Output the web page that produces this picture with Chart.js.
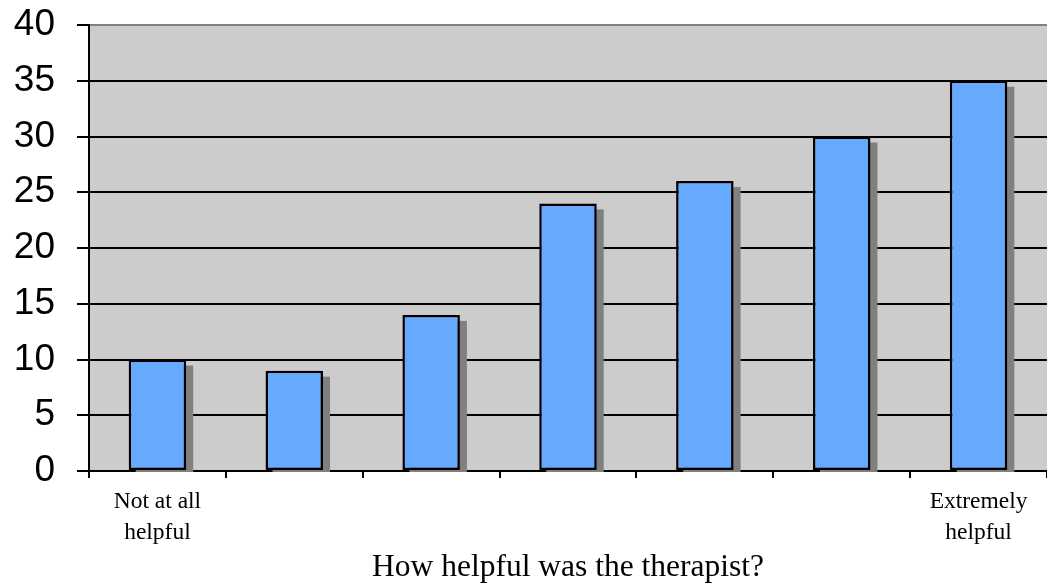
<!DOCTYPE html>
<html>
<head>
<meta charset="utf-8">
<script src="https://cdn.jsdelivr.net/npm/chart.js@4/dist/chart.umd.min.js"></script>
<style>
  html, body { margin: 0; padding: 0; background: #ffffff; }
  #wrap { width: 1047px; height: 584px; }
</style>
</head>
<body>
<div id="wrap"><canvas id="c" width="1047" height="584"></canvas></div>
<script>
const categories = [["Not at all", "helpful"], "", "", "", "", "", ["Extremely", "helpful"]];
const values = [10, 9, 14, 24, 26, 30, 35];
const yTicks = [0, 5, 10, 15, 20, 25, 30, 35, 40];
const xTitle = "How helpful was the therapist?";

const bgPlugin = {
  id: 'bg',
  beforeDraw(chart) {
    const { ctx, chartArea: a } = chart;
    ctx.save();
    ctx.fillStyle = '#ffffff';
    ctx.fillRect(0, 0, chart.width, chart.height);
    ctx.fillStyle = '#cccccc';
    ctx.fillRect(a.left, a.top, a.right - a.left, a.bottom - a.top);
    ctx.restore();
  }
};
const shadowPlugin = {
  id: 'shadow',
  beforeDatasetsDraw(chart) {
    const ctx = chart.ctx;
    const meta = chart.getDatasetMeta(0);
    ctx.save();
    ctx.fillStyle = '#808080';
    meta.data.forEach((bar) => {
      const p = bar.getProps(['x', 'y', 'base', 'width'], true);
      const left = p.x - p.width / 2 + 7;
      const top = Math.min(p.y, p.base) + 6;
      const bottom = Math.max(p.y, p.base) + 2;
      ctx.fillRect(left, top, p.width, bottom - top);
    });
    ctx.restore();
  }
};

new Chart(document.getElementById('c'), {
  type: 'bar',
  data: {
    labels: categories,
    datasets: [{
      data: values,
      backgroundColor: '#66aaff',
      borderColor: '#000000',
      borderWidth: 2.5,
      borderSkipped: false,
      barPercentage: 0.42,
      categoryPercentage: 1.0
    }]
  },
  options: {
    responsive: false,
    animation: false,
    devicePixelRatio: 1,
    layout: { padding: { top: 0, left: 0, right: 0, bottom: 0 } },
    plugins: { legend: { display: false }, tooltip: { enabled: false }, title: { display: false } },
    scales: {
      x: {
        type: 'category',
        offset: true,
        afterFit(s) { s.height = 113; },
        grid: {
          offset: true,
          drawOnChartArea: false,
          drawTicks: true,
          tickLength: 7,
          tickColor: '#000000',
          tickWidth: 2,
          color: '#000000',
          lineWidth: 2
        },
        border: { display: true, color: '#000000', width: 2 },
        ticks: {
          autoSkip: false,
          maxRotation: 0,
          minRotation: 0,
          padding: 9,
          color: '#000000',
          font: { family: '"Liberation Serif", "Times New Roman", serif', size: 23.5, lineHeight: 1.3 }
        },
        title: {
          display: true,
          text: xTitle,
          color: '#000000',
          padding: { top: 0, bottom: -3 },
          font: { family: '"Liberation Serif", "Times New Roman", serif', size: 31.5, lineHeight: 1.2 }
        }
      },
      y: {
        min: yTicks[0],
        max: yTicks[yTicks.length - 1],
        afterFit(s) { s.width = 89; s.paddingTop = 25; s.paddingBottom = 0; },
        afterBuildTicks(s) { s.ticks = yTicks.map(v => ({ value: v })); },
        grid: {
          drawTicks: true,
          tickLength: 12,
          tickColor: '#000000',
          tickWidth: 2,
          color: (c) => (c.tick && c.tick.value === 40 ? '#808080' : '#000000'),
          lineWidth: 2
        },
        border: { display: true, color: '#000000', width: 2 },
        ticks: {
          stepSize: 5,
          padding: 22,
          color: '#000000',
          font: { family: '"Liberation Sans", Arial, sans-serif', size: 37 }
        }
      }
    }
  },
  plugins: [bgPlugin, shadowPlugin]
});
</script>
</body>
</html>
